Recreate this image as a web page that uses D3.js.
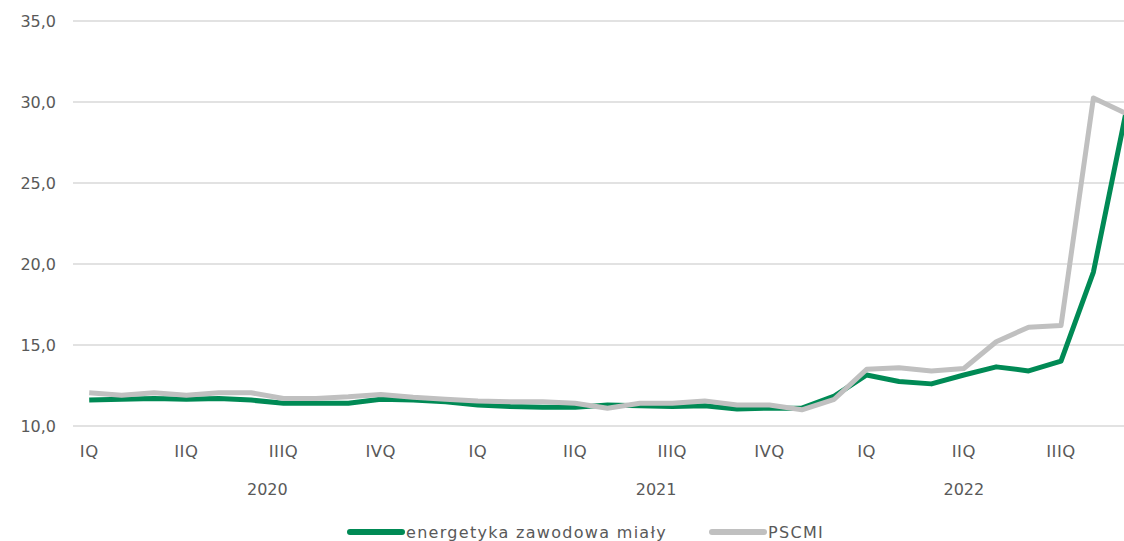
<!DOCTYPE html>
<html><head><meta charset="utf-8">
<script src="https://cdn.jsdelivr.net/npm/d3@7"></script>
<style>
html,body{margin:0;padding:0;background:#fff;overflow:hidden}
text{font-family:"DejaVu Sans",sans-serif;fill:#595959}
</style></head>
<body><svg id="c" width="1124" height="541"></svg>
<script>
const months = d3.range(33).map(i => i); // Jan 2020 .. Sep 2022
const quarterLabels = ["IQ","IIQ","IIIQ","IVQ","IQ","IIQ","IIIQ","IVQ","IQ","IIQ","IIIQ"];
const quarterIndex = [0,3,6,9,12,15,18,21,24,27,30];
const years = ["2020","2021","2022"];
const yearCenter = [5.5,17.5,27];
const yTicks = [10,15,20,25,30,35];
const seriesNames = ["energetyka zawodowa miały","PSCMI"];
const energetyka = [11.6,11.65,11.7,11.65,11.7,11.6,11.4,11.4,11.4,11.65,11.6,11.5,
  11.3,11.2,11.15,11.15,11.3,11.25,11.2,11.25,11.05,11.1,11.1,11.85,
  13.15,12.75,12.6,13.15,13.65,13.4,14.0,19.5,29.3];
const pscmi = [12.05,11.9,12.05,11.9,12.05,12.05,11.7,11.7,11.8,11.95,11.77,11.65,
  11.55,11.5,11.5,11.4,11.1,11.4,11.4,11.55,11.3,11.3,11.0,11.65,
  13.5,13.6,13.4,13.55,15.2,16.1,16.2,30.25,29.3];

const svg = d3.select("#c");
const x = d3.scaleBand().domain(months).range([73,1142]);
const xc = i => x(i) + x.bandwidth()/2;
const y = d3.scaleLinear().domain([10,35]).range([426,21]);

// grid
svg.append("g").selectAll("line").data(yTicks).join("line")
  .attr("x1",73).attr("x2",1142).attr("y1",d=>y(d)).attr("y2",d=>y(d))
  .attr("stroke","#d9d9d9").attr("stroke-width",1.5);

// y labels
svg.append("g").selectAll("text").data(yTicks).join("text")
  .attr("x",56).attr("y",d=>y(d)).attr("dy","0.35em").attr("text-anchor","end")
  .style("font-size","16px").text(d=>d3.format(".1f")(d).replace(".",","));

// quarter labels
svg.append("g").selectAll("text").data(quarterLabels).join("text")
  .attr("x",(d,i)=>xc(quarterIndex[i])).attr("y",451).attr("dy","0.35em")
  .attr("text-anchor","middle").style("font-size","16.5px").style("letter-spacing","0.5px").text(d=>d);

// year labels
svg.append("g").selectAll("text").data(years).join("text")
  .attr("x",(d,i)=>x(0)+ (yearCenter[i]+0.5)*x.step()).attr("y",489).attr("dy","0.35em")
  .attr("text-anchor","middle").style("font-size","16px").text(d=>d);

const line = d3.line().x((d,i)=>xc(i)).y(d=>y(d));
const colors = ["#008a55","#c0c0c0"];
[energetyka,pscmi].forEach((s,k)=>{
  svg.append("path").datum(s).attr("d",line).attr("fill","none")
    .attr("stroke",colors[k]).attr("stroke-width",5).attr("stroke-linejoin","round");
});

// legend
const leg = [{x:350,tx:406},{x:712,tx:768}];
seriesNames.forEach((n,k)=>{
  svg.append("line").attr("x1",leg[k].x).attr("x2",leg[k].x+52).attr("y1",532).attr("y2",532)
    .attr("stroke",colors[k]).attr("stroke-width",6).attr("stroke-linecap","round");
  svg.append("text").attr("x",leg[k].tx).attr("y",532).attr("dy","0.35em")
    .style("font-size","16px").style("letter-spacing","1.3px").text(n);
});
</script></body></html>
